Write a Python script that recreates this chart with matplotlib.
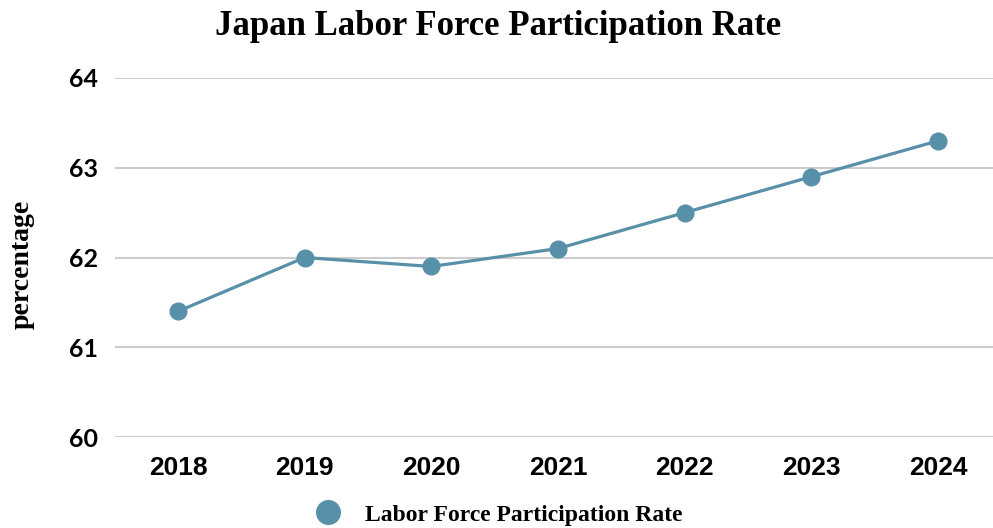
import matplotlib
matplotlib.use("Agg")
import matplotlib.pyplot as plt
from matplotlib.lines import Line2D

years = ["2018", "2019", "2020", "2021", "2022", "2023", "2024"]
values = [61.4, 62.0, 61.9, 62.1, 62.5, 62.9, 63.3]
yticks = [60, 61, 62, 63, 64]
series_name = "Labor Force Participation Rate"
title = "Japan Labor Force Participation Rate"
ylabel = "percentage"
color = "#5790a8"

fig = plt.figure(figsize=(9.93, 5.28), dpi=100)
ax = fig.add_axes([0.1158, 0.1723, 0.8842, 0.68])

x = list(range(len(years)))
ax.plot(x, values, color=color, linewidth=2.3, marker="o", markersize=12,
        markerfacecolor=color, markeredgecolor=color, zorder=3)

ax.set_xlim(-0.497, 6.434)
ax.set_ylim(60, 64)
ax.set_yticks(yticks)
ax.set_yticklabels([str(t) for t in yticks], fontfamily="Lato",
                   fontweight="bold", fontsize=18)
ax.set_xticks(x)
ax.set_xticklabels(years, fontfamily="Liberation Sans", fontweight="bold", fontsize=19)
ax.tick_params(axis="both", length=0)
ax.tick_params(axis="y", pad=12)
ax.tick_params(axis="x", pad=14)
ax.grid(axis="y", color="#cccccc", linewidth=1.5)
ax.set_axisbelow(True)
for s in ax.spines.values():
    s.set_visible(False)

fig.text(0.5015, 0.949, title, ha="center", va="center", fontfamily="Liberation Serif",
         fontweight="bold", fontsize=25)
fig.text(0.022, 0.5, ylabel, rotation=90, ha="center", va="center",
         fontfamily="Liberation Serif", fontweight="bold", fontsize=20)

handle = Line2D([], [], color=color, marker="o", linestyle="none", markersize=17)
fig.legend([handle], [series_name], loc="center", bbox_to_anchor=(0.497, 0.025),
           frameon=False, prop={"family": "Liberation Serif", "weight": "bold", "size": 17},
           handletextpad=0.6, borderaxespad=0)

fig.savefig("out.png", dpi=100)
